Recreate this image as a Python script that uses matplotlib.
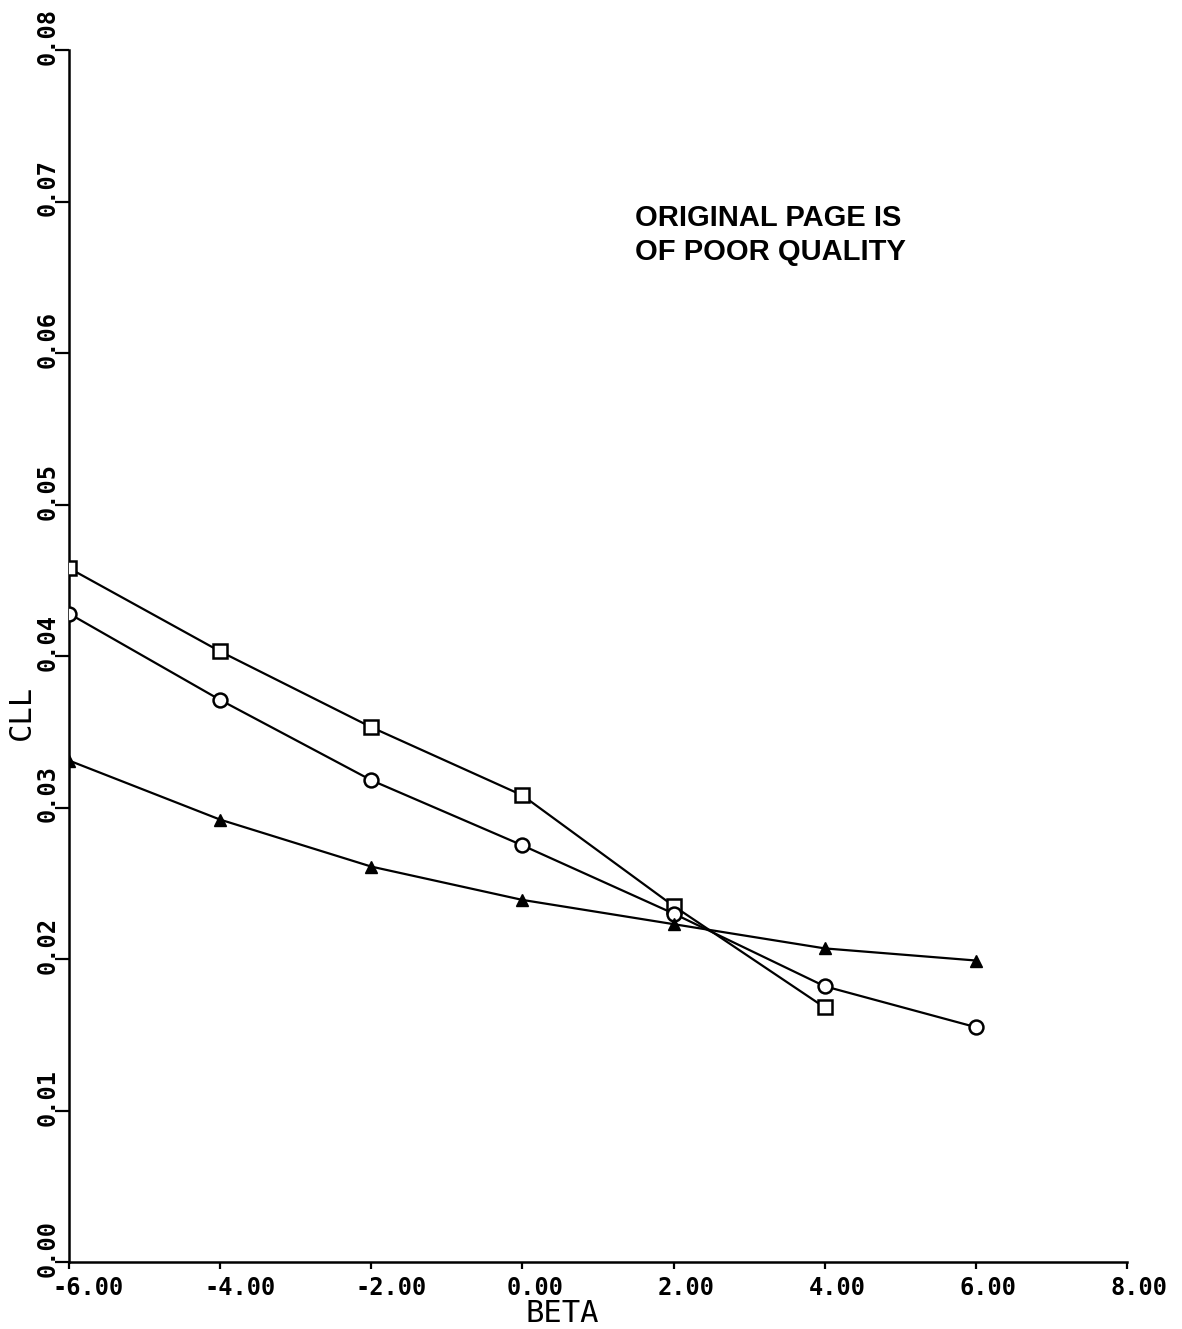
import matplotlib
matplotlib.use("Agg")
import matplotlib.pyplot as plt
import matplotlib.transforms as mtransforms

beta = [-6, -4, -2, 0, 2, 4, 6]
cll_square = [0.0458, 0.0403, 0.0353, 0.0308, 0.0235, 0.0168]
cll_circle = [0.0428, 0.0371, 0.0318, 0.0275, 0.0230, 0.0182, 0.0155]
cll_triangle = [0.0331, 0.0292, 0.0261, 0.0239, 0.0223, 0.0207, 0.0199]
xticks = [-6, -4, -2, 0, 2, 4, 6, 8]
yticks = [0.00, 0.01, 0.02, 0.03, 0.04, 0.05, 0.06, 0.07, 0.08]

fig = plt.figure(figsize=(11.82, 13.29), dpi=100)
ax = fig.add_axes([69/1182, 1 - 1262/1329, (1127-69)/1182, (1262-50)/1329])

lw = 1.6
ax.plot(beta[:6], cll_square, color='black', lw=lw, marker='s', ms=10,
        mfc='white', mec='black', mew=1.8, zorder=3)
ax.plot(beta, cll_circle, color='black', lw=lw, marker='o', ms=10,
        mfc='white', mec='black', mew=1.8, zorder=3)
ax.plot(beta, cll_triangle, color='black', lw=lw, marker='^', ms=9,
        mfc='black', mec='black', zorder=3)

ax.set_xlim(-6, 8)
ax.set_ylim(0, 0.08)
ax.spines['top'].set_visible(False)
ax.spines['right'].set_visible(False)
for s in ('left', 'bottom'):
    ax.spines[s].set_linewidth(1.8)

ax.set_xticks(xticks)
ax.set_xticklabels([f"{v:.2f}" for v in xticks], fontfamily='DejaVu Sans Mono',
                   fontweight='bold', fontsize=17, ha='left')
ax.set_yticks(yticks)
ax.set_yticklabels([f"{v:.2f}" for v in yticks], fontfamily='DejaVu Sans Mono',
                   fontweight='bold', fontsize=17, rotation=90, va='bottom', ha='right')
ax.tick_params(axis='x', direction='out', length=5, width=1.6, pad=5)
ax.tick_params(axis='y', direction='out', length=10, width=1.6, pad=2)

offx = mtransforms.ScaledTranslation(-16/100, 0, fig.dpi_scale_trans)
for lab in ax.get_xticklabels():
    lab.set_transform(lab.get_transform() + offx)
offy = mtransforms.ScaledTranslation(7/100, -15/100, fig.dpi_scale_trans)
for lab in ax.get_yticklabels():
    lab.set_transform(lab.get_transform() + offy)

fig.text(525/1182, 1 - 1313/1329, "BETA", fontfamily='DejaVu Sans Mono',
         fontsize=22, ha='left', va='center')
fig.text(21/1182, 1 - 712/1329, "CLL", fontfamily='DejaVu Sans Mono',
         fontsize=22, ha='center', va='center', rotation=90)

fig.text(635/1182, 1 - 218/1329, "ORIGINAL PAGE IS", fontfamily='Liberation Sans',
         fontweight='bold', fontsize=21, ha='left', va='center')
fig.text(635/1182, 1 - 252/1329, "OF POOR QUALITY", fontfamily='Liberation Sans',
         fontweight='bold', fontsize=21, ha='left', va='center')

fig.savefig("out.png", dpi=100)
